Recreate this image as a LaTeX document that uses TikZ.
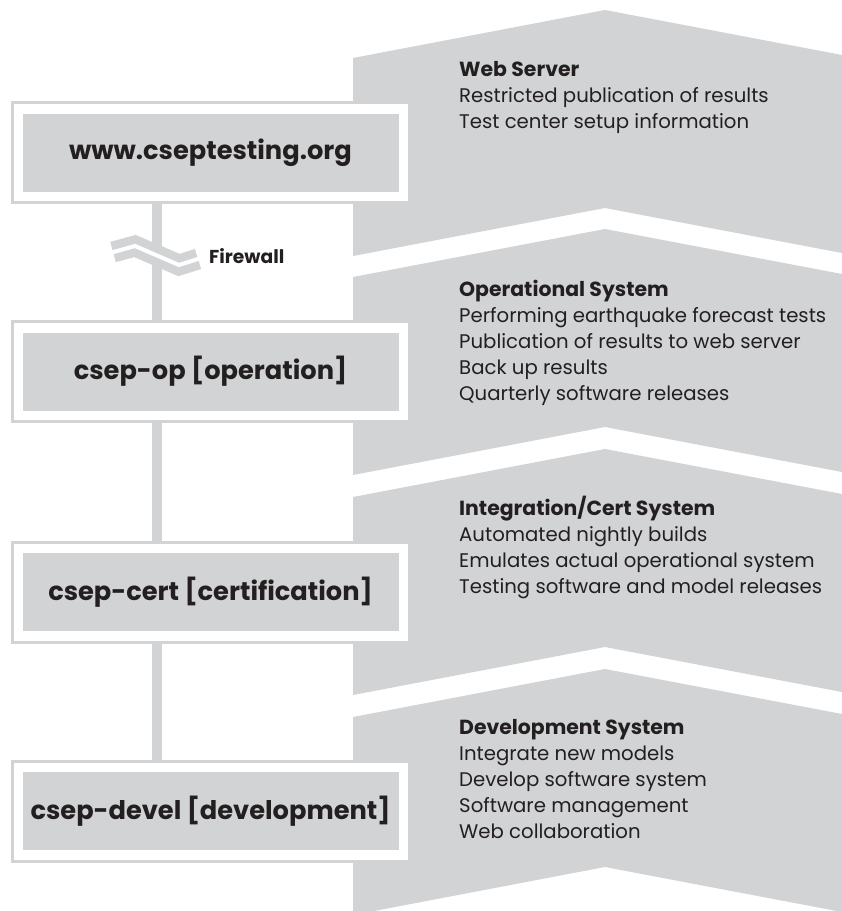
\documentclass[tikz,border=0pt]{standalone}
\usepackage{fontspec}
\setmainfont{Poppins}
\usepackage{tikz}
\usetikzlibrary{positioning}

\definecolor{panelgray}{RGB}{209,211,212}
\definecolor{inkblack}{RGB}{35,31,32}
\newcommand{\headtext}[1]{{\fontsize{20.4}{26}\selectfont\bfseries #1}}

\begin{document}
\begin{tikzpicture}
[x=1pt, y=-1pt,
frame/.style={rectangle, draw=panelgray, line width=3pt, fill=white, minimum width=397pt, minimum height=100pt, inner sep=0pt},
label/.style={rectangle, fill=panelgray, minimum width=376pt, minimum height=78pt, inner sep=0pt, text=inkblack, font=\fontsize{25.7}{30}\selectfont\bfseries},
info/.style={anchor=base west, align=left, inner sep=0pt, text=inkblack, font=\fontsize{19.7}{26}\selectfont},
link/.style={draw=panelgray, line width=10pt},
]
\useasboundingbox (0,0) rectangle (842,911);
\clip (0,0) rectangle (842,911);

% chevrons on the right
\foreach \t in {58,277,497,717}
  \fill[panelgray] (353,\t) -- (605,\t-48) -- (842,\t-3) -- (842,\t+195) -- (605,\t+150) -- (353,\t+198) -- cycle;

% base anchor sits on the last line
\node[info] (webtxt) at (459,128) {\headtext{Web Server}\\ Restricted publication of results\\ Test center setup information};
\node[info] (optxt) at (459,400) {\headtext{Operational System}\\ Performing earthquake forecast tests\\ Publication of results to web server\\ Back up results\\ Quarterly software releases};
\node[info] (certtxt) at (459,593) {\headtext{Integration/Cert System}\\ Automated nightly builds\\ Emulates actual operational system\\ Testing software and model releases};
\node[info] (develtxt) at (459,838) {\headtext{Development System}\\ Integrate new models\\ Develop software system\\ Software management\\ Web collaboration};

% boxes on the left
\node[frame] (web) at (210.5,152.5) {};
\node[frame] (op) at (210.5,371.5) {};
\node[frame] (cert) at (210.5,592) {};
\node[frame] (devel) at (210.5,811) {};

\draw[link] ([xshift=-53.5pt]web.south) -- ([xshift=-53.5pt]op.north);
\draw[link] ([xshift=-53.5pt]op.south) -- ([xshift=-53.5pt]cert.north);
\draw[link] ([xshift=-53.5pt]cert.south) -- ([xshift=-53.5pt]devel.north);

\node[label] (weblbl) at (web) {www.cseptesting.org};
\node[label] (oplbl) at (op) {csep-op [operation]};
\node[label] (certlbl) at (cert) {csep-cert [certification]};
\node[label] (devellbl) at (devel) {csep-devel [development]};

% firewall break
\draw[panelgray, line width=21pt] (113,252) -- (135,246) -- (179,265) -- (198,259);
\draw[white, line width=4pt] (110,253) -- (135,246) -- (179,265) -- (201,258);
\node[anchor=base west, inner sep=0pt, text=inkblack, font=\fontsize{18.7}{22}\selectfont\bfseries] (fw) at (209,263) {Firewall};
\end{tikzpicture}
\end{document}
